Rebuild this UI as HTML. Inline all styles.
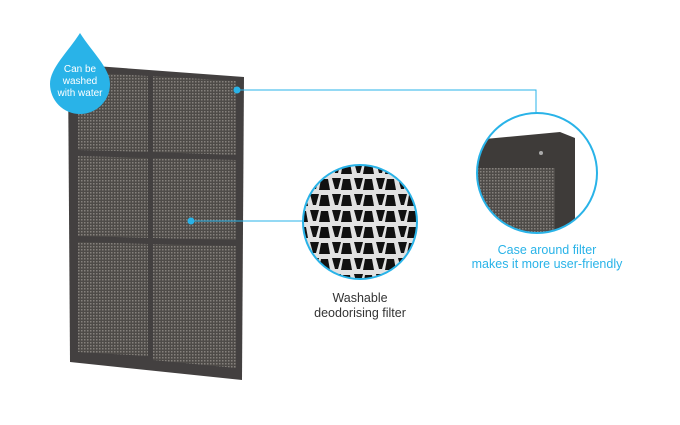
<!DOCTYPE html>
<html><head><style>
body{margin:0;width:680px;height:420px;background:#fff;overflow:hidden;font-family:"Liberation Sans",sans-serif}
</style></head><body>
<svg width="680" height="420" viewBox="0 0 680 420" xmlns="http://www.w3.org/2000/svg">
<defs>
<pattern id="mesh" width="3" height="3" patternUnits="userSpaceOnUse">
<rect width="3" height="3" fill="#4e4b48"/><rect width="1.5" height="1.5" fill="#85817d"/>
</pattern>
<pattern id="hex" width="22" height="16" patternUnits="userSpaceOnUse">
<rect width="22" height="16" fill="#e2e2e2"/>
<path d="M2 2 L11 2 L8 13 L5 13 Z" fill="#111"/>
<path d="M13 3 L20 3 L22 14 L11 14 Z" fill="#111"/>
</pattern>
<clipPath id="c1"><circle cx="360" cy="222" r="57"/></clipPath>
<clipPath id="c2"><circle cx="537" cy="173" r="60"/></clipPath>
</defs>
<polygon points="68,64 244,77 242,380 70,362" fill="#434040"/>
<polygon points="78,72 148,76 148,152 78,150" fill="url(#mesh)"/>
<polygon points="153,76 236,81 236,155 153,152" fill="url(#mesh)"/>
<polygon points="78,156 148,158 148,238 78,236" fill="url(#mesh)"/>
<polygon points="153,158 236,160 236,240 153,238" fill="url(#mesh)"/>
<polygon points="78,242 148,244 148,356 78,352" fill="url(#mesh)"/>
<polygon points="153,244 236,246 236,368 153,360" fill="url(#mesh)"/>
<path d="M80 33 C92 52 110 68 110 84 A30 30 0 0 1 50 84 C50 68 68 52 80 33 Z" fill="#29b3e8"/>
<text x="80" y="72" font-size="10" fill="#fff" text-anchor="middle">Can be</text>
<text x="80" y="84" font-size="10" fill="#fff" text-anchor="middle">washed</text>
<text x="80" y="96" font-size="10" fill="#fff" text-anchor="middle">with water</text>
<polyline points="237,90 536,90 536,113" fill="none" stroke="#29b3e8" stroke-width="1"/>
<circle cx="237" cy="90" r="3.5" fill="#29b3e8"/>
<line x1="191" y1="221" x2="303" y2="221" stroke="#29b3e8" stroke-width="1"/>
<circle cx="191" cy="221" r="3.5" fill="#29b3e8"/>
<g clip-path="url(#c1)"><rect x="300" y="160" width="120" height="125" fill="url(#hex)"/></g>
<circle cx="360" cy="222" r="57" fill="none" stroke="#29b3e8" stroke-width="2"/>
<g clip-path="url(#c2)">
<rect x="475" y="110" width="125" height="125" fill="#fff"/>
<polygon points="475,140 560,132 575,138 575,235 475,235" fill="#3e3b39"/>
<rect x="475" y="168" width="80" height="70" fill="url(#mesh)"/>
<circle cx="541" cy="153" r="2" fill="#aaa"/>
</g>
<circle cx="537" cy="173" r="60" fill="none" stroke="#29b3e8" stroke-width="2"/>
<text x="360" y="302" font-size="12.5" fill="#333" text-anchor="middle">Washable</text>
<text x="360" y="317" font-size="12.5" fill="#333" text-anchor="middle">deodorising filter</text>
<text x="547" y="254" font-size="12.5" fill="#29b3e8" text-anchor="middle">Case around filter</text>
<text x="547" y="268" font-size="12.5" fill="#29b3e8" text-anchor="middle">makes it more user-friendly</text>
</svg>
</body></html>
